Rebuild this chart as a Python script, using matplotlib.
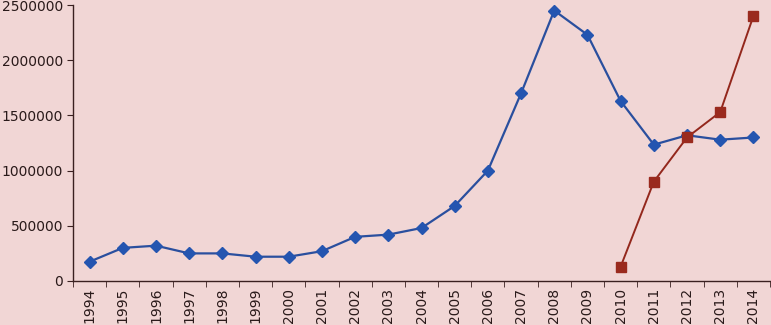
import matplotlib
matplotlib.use("Agg")
import matplotlib.pyplot as plt
import numpy as np

years = [str(y) for y in range(1994, 2015)]
blue_vals = [175000, 300000, 320000, 250000, 250000, 220000, 220000, 270000,
             400000, 420000, 480000, 680000, 1000000, 1700000, 2450000,
             2230000, 1630000, 1235000, 1320000, 1280000, 1300000]
red_years = ["2010", "2011", "2012", "2013", "2014"]
red_vals = [130000, 900000, 1300000, 1530000, 2400000]

bg = "#f1d6d5"
axcol = "#3a2020"

fig = plt.figure(figsize=(7.71, 3.25), dpi=100, facecolor=bg)
ax = fig.add_axes([0.0947, 0.1354, 0.904, 0.8492], facecolor=bg)

x = np.arange(len(years))
xr = [years.index(y) for y in red_years]

ax.plot(x, blue_vals, color="#2a4f9e", lw=1.6, marker="D", ms=6.5,
        mfc="#2455b0", mec="#2455b0", zorder=3)
ax.plot(xr, red_vals, color="#93271c", lw=1.4, marker="s", ms=6.5,
        mfc="#9a2a1e", mec="#9a2a1e", zorder=4)

ax.set_xlim(-0.5, len(years) - 0.5)
ax.set_ylim(0, 2500000)
ax.set_yticks(range(0, 2500001, 500000))
ax.set_yticklabels([str(v) for v in range(0, 2500001, 500000)],
                   fontsize=10, color="#2a1a1a")
ax.set_xticks(x)
ax.set_xticklabels(years, rotation=90, fontsize=10, color="#2a1a1a")
ax.set_xticks(np.arange(-0.5, len(years), 1), minor=True)
ax.tick_params(axis="x", which="major", length=0, pad=5)
ax.tick_params(axis="x", which="minor", length=4, color=axcol, direction="out")
ax.tick_params(axis="y", length=4, color=axcol, direction="out", pad=3)

for s in ["top", "right"]:
    ax.spines[s].set_visible(False)
for s in ["left", "bottom"]:
    ax.spines[s].set_color(axcol)
    ax.spines[s].set_linewidth(1.0)

fig.savefig("out.png", dpi=100, facecolor=bg)
